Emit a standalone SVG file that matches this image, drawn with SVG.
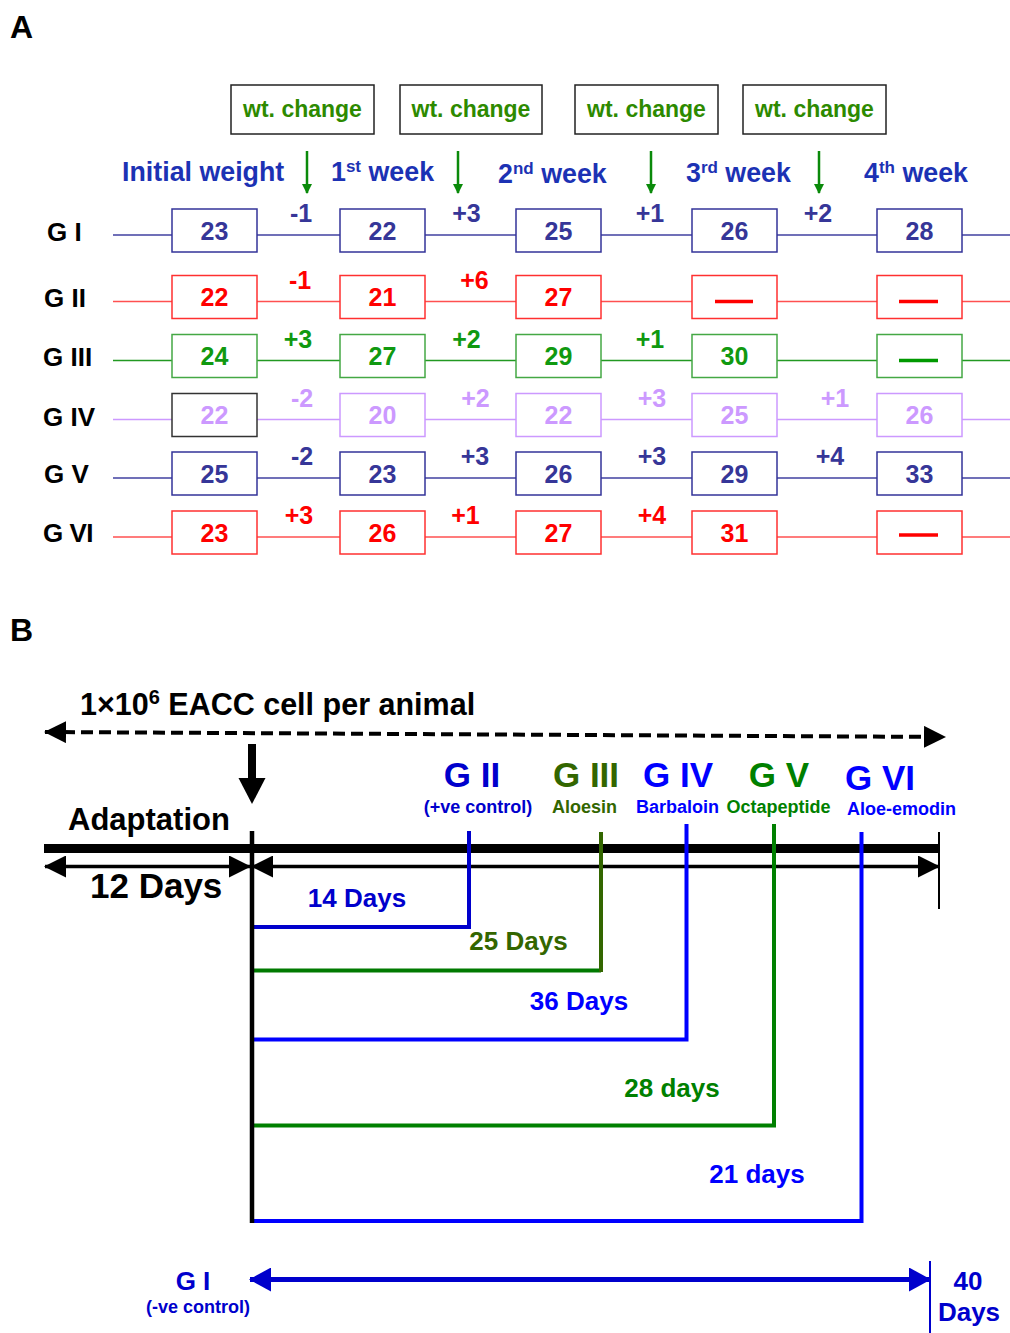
<svg xmlns="http://www.w3.org/2000/svg" width="1010" height="1333" viewBox="0 0 1010 1333">
<defs>
<style>
text{font-family:"Liberation Sans",Arial,Helvetica,sans-serif;font-weight:bold}
.lbl{font-size:32px;fill:#000}
.wt{font-size:23px;fill:#2d8a00;text-anchor:middle}
.wtb{fill:#fff;stroke:#222;stroke-width:1.5}
.hd{font-size:26.8px;fill:#1c32b4}
.rl{font-size:26px;fill:#000}
.n{font-size:25px;text-anchor:middle}
.c{font-size:25px;text-anchor:middle}
.box{fill:#fff;stroke-width:1.5}
.rline{stroke-width:1.5;fill:none}
.dash{stroke-width:3.5}
.navy{fill:#363698}
.navyS{stroke:#333399}
.red{fill:#ff0000}
.redS{stroke:#ff3030}
.grn{fill:#109910}
.grnS{stroke:#44a844}
.lav{fill:#cc99ff}
.lavS{stroke:#cc99ff}
.bt{font-size:26px;text-anchor:middle}
.gl{font-size:35px;text-anchor:middle}
.sub{font-size:18px;text-anchor:middle}
</style>
<marker id="ah" markerUnits="userSpaceOnUse" viewBox="0 0 22 22" markerWidth="22" markerHeight="22" refX="21" refY="11" orient="auto-start-reverse"><path d="M0,0 L22,11 L0,22 z" fill="#000"/></marker>
<marker id="ahb" markerUnits="userSpaceOnUse" viewBox="0 0 22 24" markerWidth="22" markerHeight="24" refX="21" refY="12" orient="auto-start-reverse"><path d="M0,0 L22,12 L0,24 z" fill="#0000cc"/></marker>
<marker id="ahg" markerUnits="userSpaceOnUse" viewBox="0 0 10 10" markerWidth="10" markerHeight="10" refX="9" refY="5" orient="auto"><path d="M0,0 L10,5 L0,10 z" fill="#0a8a0a"/></marker>
</defs>
<rect width="1010" height="1333" fill="#fff"/>

<text class="lbl" x="10" y="38">A</text>
<text class="lbl" x="10" y="641">B</text>

<!-- Part A: wt change boxes -->
<g id="wt1"><rect class="wtb" x="231" y="85" width="143" height="49"/><text class="wt" x="302.5" y="117">wt. change</text></g>
<g id="wt2"><rect class="wtb" x="400" y="85" width="142" height="49"/><text class="wt" x="471" y="117">wt. change</text></g>
<g id="wt3"><rect class="wtb" x="575" y="85" width="143" height="49"/><text class="wt" x="646.5" y="117">wt. change</text></g>
<g id="wt4"><rect class="wtb" x="743" y="85" width="143" height="49"/><text class="wt" x="814.5" y="117">wt. change</text></g>

<!-- headers -->
<g id="headers">
<text class="hd" x="122" y="181">Initial weight</text>
<text class="hd" x="331" y="181">1<tspan font-size="17" dy="-9">st</tspan><tspan dy="9"> week</tspan></text>
<text class="hd" x="498" y="183">2<tspan font-size="17" dy="-9">nd</tspan><tspan dy="9"> week</tspan></text>
<text class="hd" x="686" y="182">3<tspan font-size="17" dy="-9">rd</tspan><tspan dy="9"> week</tspan></text>
<text class="hd" x="864" y="182">4<tspan font-size="17" dy="-9">th</tspan><tspan dy="9"> week</tspan></text>
</g>

<g id="connectors">
<!-- green arrows -->
<g stroke="#0a8a0a" stroke-width="2.5" marker-end="url(#ahg)">
<line x1="307" y1="151" x2="307" y2="193"/>
<line x1="458" y1="151" x2="458" y2="193"/>
<line x1="651" y1="151" x2="651" y2="193"/>
<line x1="819" y1="151" x2="819" y2="193"/>
</g>
<!-- row lines -->
<line class="rline" x1="113" y1="235" x2="1010" y2="235" stroke="#4040a0"/>
<line class="rline" x1="113" y1="301.5" x2="1010" y2="301.5" stroke="#ff5050"/>
<line class="rline" x1="113" y1="360.5" x2="1010" y2="360.5" stroke="#229922"/>
<line class="rline" x1="113" y1="419.5" x2="1010" y2="419.5" stroke="#cc99ff"/>
<line class="rline" x1="113" y1="478" x2="1010" y2="478" stroke="#4040a0"/>
<line class="rline" x1="113" y1="537" x2="1010" y2="537" stroke="#ff5050"/>

<!-- Part B connectors -->
<line x1="45" y1="732" x2="945" y2="737" stroke="#000" stroke-width="4" stroke-dasharray="12 6" marker-start="url(#ah)" marker-end="url(#ah)"/>
<line x1="252" y1="744" x2="252" y2="782" stroke="#000" stroke-width="8"/>
<polygon points="238.5,778 265.5,778 252,804" fill="#000"/>
<line x1="44" y1="848.5" x2="940" y2="848.5" stroke="#000" stroke-width="9"/>
<line x1="45" y1="866.5" x2="250" y2="866.5" stroke="#000" stroke-width="3.5" marker-start="url(#ah)" marker-end="url(#ah)"/>
<line x1="252" y1="866.5" x2="939" y2="866.5" stroke="#000" stroke-width="3.5" marker-start="url(#ah)" marker-end="url(#ah)"/>
<line x1="939" y1="832" x2="939" y2="909" stroke="#000" stroke-width="2"/>
<g fill="none" stroke-width="4">
<polyline points="252,927 469,927 469,831" stroke="#0000cc"/>
<line x1="252" y1="970.5" x2="601" y2="970.5" stroke="#007a00"/>
<line x1="601" y1="972" x2="601" y2="832" stroke="#336600"/>
<polyline points="252,1039.5 686.5,1039.5 686.5,824" stroke="#0000ff"/>
<polyline points="252,1125.5 774,1125.5 774,824" stroke="#008000"/>
<polyline points="252,1221 861.5,1221 861.5,832" stroke="#0000ff"/>
</g>
<line x1="252" y1="831" x2="252" y2="1223" stroke="#000" stroke-width="4.5"/>
<line x1="250" y1="1279.5" x2="930" y2="1279.5" stroke="#0000cc" stroke-width="5" marker-start="url(#ahb)" marker-end="url(#ahb)"/>
<line x1="930" y1="1261" x2="930" y2="1333" stroke="#0000cc" stroke-width="2"/>
</g>

<!-- Rows -->
<g id="GI">
<text class="rl" x="47" y="241">G I</text>
<g class="navyS"><rect class="box" x="172" y="209" width="85" height="43"/><rect class="box" x="340" y="209" width="85" height="43"/><rect class="box" x="516" y="209" width="85" height="43"/><rect class="box" x="692" y="209" width="85" height="43"/><rect class="box" x="877" y="209" width="85" height="43"/></g>
<g class="navy"><text class="n" x="214.5" y="239.5">23</text><text class="n" x="382.5" y="239.5">22</text><text class="n" x="558.5" y="239.5">25</text><text class="n" x="734.5" y="239.5">26</text><text class="n" x="919.5" y="239.5">28</text>
<text class="c" x="301" y="222">-1</text><text class="c" x="466.5" y="222">+3</text><text class="c" x="650" y="222">+1</text><text class="c" x="818" y="222">+2</text></g>
</g>

<g id="GII">
<text class="rl" x="44" y="306.5">G II</text>
<g class="redS"><rect class="box" x="172" y="275.5" width="85" height="43"/><rect class="box" x="340" y="275.5" width="85" height="43"/><rect class="box" x="516" y="275.5" width="85" height="43"/><rect class="box" x="692" y="275.5" width="85" height="43"/><rect class="box" x="877" y="275.5" width="85" height="43"/></g>
<g class="red"><text class="n" x="214.5" y="306">22</text><text class="n" x="382.5" y="306">21</text><text class="n" x="558.5" y="306">27</text>
<text class="c" x="300" y="289">-1</text><text class="c" x="474.5" y="289">+6</text></g>
<line class="dash" x1="715" y1="301.5" x2="753" y2="301.5" stroke="#ff0000"/>
<line class="dash" x1="899" y1="301.5" x2="938" y2="301.5" stroke="#ff0000"/>
</g>

<g id="GIII">
<text class="rl" x="43" y="365.5">G III</text>
<g class="grnS"><rect class="box" x="172" y="334.5" width="85" height="43"/><rect class="box" x="340" y="334.5" width="85" height="43"/><rect class="box" x="516" y="334.5" width="85" height="43"/><rect class="box" x="692" y="334.5" width="85" height="43"/><rect class="box" x="877" y="334.5" width="85" height="43"/></g>
<g class="grn"><text class="n" x="214.5" y="365">24</text><text class="n" x="382.5" y="365">27</text><text class="n" x="558.5" y="365">29</text><text class="n" x="734.5" y="365">30</text>
<text class="c" x="298" y="347.5">+3</text><text class="c" x="466.5" y="347.5">+2</text><text class="c" x="650" y="347.5">+1</text></g>
<line class="dash" x1="899" y1="360.5" x2="938" y2="360.5" stroke="#009900"/>
</g>

<g id="GIV">
<text class="rl" x="43" y="426">G IV</text>
<rect class="box" x="172" y="393.5" width="85" height="43" stroke="#333"/>
<g class="lavS"><rect class="box" x="340" y="393.5" width="85" height="43"/><rect class="box" x="516" y="393.5" width="85" height="43"/><rect class="box" x="692" y="393.5" width="85" height="43"/><rect class="box" x="877" y="393.5" width="85" height="43"/></g>
<g class="lav"><text class="n" x="214.5" y="424">22</text><text class="n" x="382.5" y="424">20</text><text class="n" x="558.5" y="424">22</text><text class="n" x="734.5" y="424">25</text><text class="n" x="919.5" y="424">26</text>
<text class="c" x="302" y="406.5">-2</text><text class="c" x="475.5" y="406.5">+2</text><text class="c" x="652" y="406.5">+3</text><text class="c" x="835" y="406.5">+1</text></g>
</g>

<g id="GV">
<text class="rl" x="44" y="482.5">G V</text>
<g class="navyS"><rect class="box" x="172" y="452" width="85" height="43"/><rect class="box" x="340" y="452" width="85" height="43"/><rect class="box" x="516" y="452" width="85" height="43"/><rect class="box" x="692" y="452" width="85" height="43"/><rect class="box" x="877" y="452" width="85" height="43"/></g>
<g class="navy"><text class="n" x="214.5" y="482.5">25</text><text class="n" x="382.5" y="482.5">23</text><text class="n" x="558.5" y="482.5">26</text><text class="n" x="734.5" y="482.5">29</text><text class="n" x="919.5" y="482.5">33</text>
<text class="c" x="302" y="465">-2</text><text class="c" x="475" y="465">+3</text><text class="c" x="652" y="465">+3</text><text class="c" x="830" y="465">+4</text></g>
</g>

<g id="GVI">
<text class="rl" x="43" y="541.5" letter-spacing="-0.5">G VI</text>
<g class="redS"><rect class="box" x="172" y="511" width="85" height="43"/><rect class="box" x="340" y="511" width="85" height="43"/><rect class="box" x="516" y="511" width="85" height="43"/><rect class="box" x="692" y="511" width="85" height="43"/><rect class="box" x="877" y="511" width="85" height="43"/></g>
<g class="red"><text class="n" x="214.5" y="541.5">23</text><text class="n" x="382.5" y="541.5">26</text><text class="n" x="558.5" y="541.5">27</text><text class="n" x="734.5" y="541.5">31</text>
<text class="c" x="299" y="524">+3</text><text class="c" x="465.5" y="524">+1</text><text class="c" x="652" y="524">+4</text></g>
<line class="dash" x1="899" y1="535" x2="938" y2="535" stroke="#ff0000"/>
</g>

<!-- Part B nodes -->
<g id="injection"><text x="80" y="715" font-size="30.5" fill="#000">1×10<tspan font-size="20" dy="-11">6</tspan><tspan dy="11"> EACC cell per animal</tspan></text></g>
<g id="adaptation"><text x="68" y="830" font-size="31" fill="#000">Adaptation</text></g>
<g id="days12"><text x="90" y="898" font-size="35" fill="#000">12 Days</text></g>

<g id="B-GII"><text class="gl" x="472" y="787" fill="#0000cc">G II</text><text class="sub" x="478" y="813" fill="#0000cc">(+ve control)</text><text class="bt" x="357" y="906.5" fill="#0000cc">14 Days</text></g>
<g id="B-GIII"><text class="gl" x="586" y="787" fill="#336600">G III</text><text class="sub" x="584.5" y="813" fill="#336600">Aloesin</text><text class="bt" x="518.5" y="950" fill="#336600">25 Days</text></g>
<g id="B-GIV"><text class="gl" x="678" y="787" fill="#0000ff">G IV</text><text class="sub" x="677.5" y="813" fill="#0000ff">Barbaloin</text><text class="bt" x="579" y="1010" fill="#0000ff">36 Days</text></g>
<g id="B-GV"><text class="gl" x="779" y="787" fill="#008000">G V</text><text class="sub" x="778.5" y="813" fill="#008000">Octapeptide</text><text class="bt" x="672" y="1097" fill="#008000">28 days</text></g>
<g id="B-GVI"><text class="gl" x="880" y="790" fill="#0000ff">G VI</text><text class="sub" x="901.5" y="815" fill="#0000ff">Aloe-emodin</text><text class="bt" x="757" y="1183" fill="#0000ff">21 days</text></g>
<g id="B-GI"><text class="bt" x="193" y="1290" font-size="30" fill="#0000cc">G I</text><text class="sub" x="198" y="1313" font-size="17" fill="#0000cc">(-ve control)</text></g>
<g id="days40"><text class="bt" x="968" y="1290" fill="#0000cc">40</text><text class="bt" x="969" y="1321" fill="#0000cc">Days</text></g>
</svg>
